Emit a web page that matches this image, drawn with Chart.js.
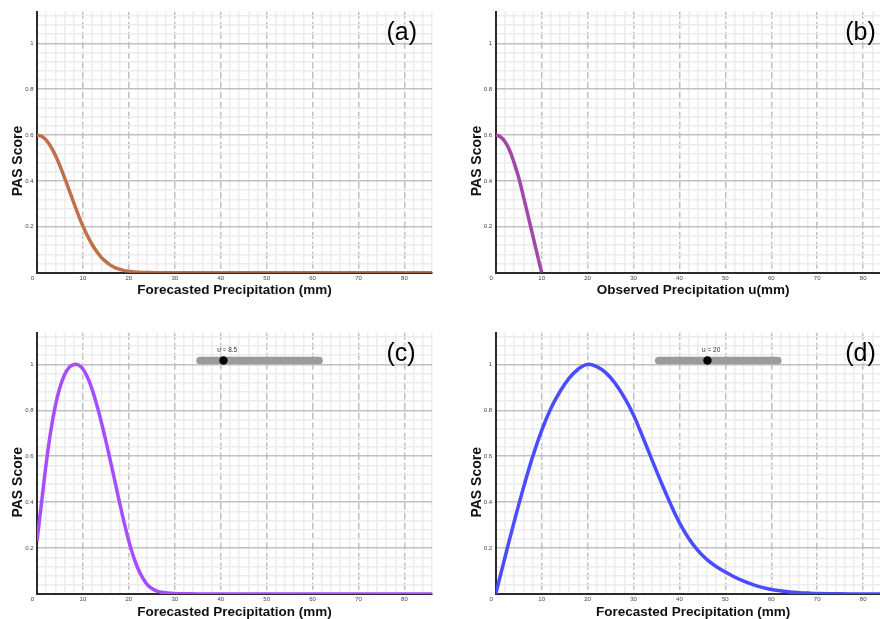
<!DOCTYPE html>
<html>
<head>
<meta charset="utf-8">
<script src="https://cdn.jsdelivr.net/npm/chart.js@4.4.1/dist/chart.umd.min.js"></script>
<style>
html,body{margin:0;padding:0;background:#fff;overflow:hidden;}
#wrap{position:relative;width:880px;height:619px;overflow:hidden;background:#fff;}
#wrap canvas{position:absolute;left:0;top:0;}
</style>
</head>
<body>
<div id="wrap">
<canvas id="ca" width="900" height="619"></canvas>
<canvas id="cb" width="900" height="619"></canvas>
<canvas id="cc" width="900" height="619"></canvas>
<canvas id="cd" width="900" height="619"></canvas>
</div>
<script>
// ---- data ----
const xTickLabels = [0, 10, 20, 30, 40, 50, 60, 70, 80];
const yTickLabels = [0.2, 0.4, 0.6, 0.8, 1];

// (a) PAS score vs forecasted precipitation
const aX = [0,1,2,3,4,5,6,7,8,9,10,11,12,13,14,15,16,17,18,19,20,22,24,26,30,40,50,60,70,80,86];
const aY = [0.6,0.595,0.578,0.55,0.512,0.466,0.414,0.36,0.305,0.252,0.203,0.16,0.123,0.092,0.067,0.048,0.033,0.022,0.015,0.009,0.006,0.002,0.001,0,0,0,0,0,0,0,0];

// (b) PAS score vs observed precipitation u
const bX = [0,1,2,3,4,5,6,7,8,9,10];
const bY = [0.6,0.593,0.572,0.535,0.48,0.415,0.335,0.252,0.168,0.084,0];

// (c) u = 8.5
const cX = [0,1,2,3,4,5,6,7,8,8.5,9,10,11,12,13,14,15,16,17,18,19,20,21,22,23,24,25,26,27,28,30,32,35,40,50,60,70,80,86];
const cY = [0.231,0.40,0.568,0.71,0.82,0.9,0.955,0.987,0.999,1.0,0.998,0.98,0.944,0.891,0.825,0.749,0.666,0.578,0.487,0.396,0.309,0.23,0.163,0.11,0.07,0.041,0.024,0.014,0.008,0.005,0.002,0.001,0,0,0,0,0,0,0];

// (d) u = 20
const dX = [0,2,4,6,8,10,12,14,16,18,20,22,24,26,28,30,32,34,36,38,40,42,44,46,48,50,52,54,56,58,60,62,64,66,68,70,75,80,86];
const dY = [0,0.158,0.313,0.46,0.595,0.712,0.808,0.882,0.94,0.98,1.0,0.99,0.963,0.918,0.856,0.78,0.685,0.585,0.488,0.395,0.311,0.243,0.19,0.15,0.12,0.096,0.074,0.056,0.041,0.029,0.02,0.014,0.009,0.006,0.004,0.0025,0.0008,0.0002,0];

// slider widgets
const sliderX = [35.5, 61.4];
const sliderY = [1.017, 1.017];
const knobC = 40.6, labelC = 'u = 8.5';
const knobD = 46.1, labelD = 'u = 20';

// ---- drawing ----
const FONT = '"Liberation Sans", Arial, Helvetica, sans-serif';
const xMajor = v => Math.abs(v / 10 - Math.round(v / 10)) < 1e-6;
const yMajor = v => Math.abs(v / 0.2 - Math.round(v / 0.2)) < 1e-6;

const panelText = {
  id: 'panelText',
  afterDraw(chart, args, o) {
    const ctx = chart.ctx, ca = chart.chartArea;
    ctx.save();
    ctx.fillStyle = '#111';
    ctx.font = 'bold 14px ' + FONT;
    ctx.textAlign = 'center';
    ctx.textBaseline = 'middle';
    ctx.translate(ca.left - 18.5, ca.bottom - 111.7);
    ctx.rotate(-Math.PI / 2);
    ctx.fillText(o.yTitle, 0, 0);
    ctx.restore();

    ctx.save();
    ctx.fillStyle = '#000';
    ctx.font = '25px ' + FONT;
    ctx.textAlign = 'left';
    ctx.textBaseline = 'middle';
    ctx.fillText(o.label, ca.left + 349.5, ca.top + 21);
    ctx.restore();

    if (o.knob !== null && o.knob !== undefined) {
      const px = chart.scales.x.getPixelForValue(o.knob);
      const py = chart.scales.y.getPixelForValue(sliderY[0]);
      ctx.save();
      ctx.fillStyle = '#333';
      ctx.font = '6.5px ' + FONT;
      ctx.textAlign = 'center';
      ctx.textBaseline = 'middle';
      ctx.fillText(o.uText, px + 3.7, py - 10);
      ctx.restore();
    }
  }
};

function pts(xs, ys) { return xs.map((x, i) => ({ x: x, y: ys[i] })); }

function curve(xs, ys, color) {
  return {
    data: pts(xs, ys), borderColor: color, backgroundColor: color,
    borderWidth: 3.5, pointRadius: 0, pointHoverRadius: 0, showLine: true,
    tension: 0.4, borderJoinStyle: 'round', fill: false, order: 2
  };
}

function sliderSets(knob) {
  return [
    { data: [{ x: knob, y: sliderY[0] }], pointRadius: 4.2, pointHoverRadius: 4.2,
      backgroundColor: '#000', borderColor: '#000', borderWidth: 0, showLine: false, order: 0 },
    { data: pts(sliderX, sliderY), borderColor: '#9b9b9b', borderWidth: 7.7, borderCapStyle: 'round',
      pointRadius: 0, pointHoverRadius: 0, showLine: true, order: 1 }
  ];
}

function makePanel(id, p) {
  const datasets = [curve(p.xs, p.ys, p.color)];
  if (p.knob !== null) datasets.unshift(...sliderSets(p.knob));
  return new Chart(document.getElementById(id), {
    type: 'scatter',
    data: { datasets: datasets },
    plugins: [panelText],
    options: {
      responsive: false, animation: false, events: [],
      devicePixelRatio: 1,
      layout: { autoPadding: false, padding: p.padding },
      plugins: {
        legend: { display: false }, tooltip: { enabled: false },
        panelText: { yTitle: 'PAS Score', label: p.label, knob: p.knob, uText: p.uText }
      },
      scales: {
        x: {
          type: 'linear', min: 0, max: 86,
          afterFit: s => { s.height = p.xH; },
          ticks: {
            stepSize: 2, autoSkip: false, maxRotation: 0, minRotation: 0, padding: 2,
            includeBounds: false, color: '#444', font: { size: 6, family: FONT },
            callback: v => (xMajor(v) && xTickLabels.indexOf(Math.round(v)) >= 0)
              ? (v === 0 ? '0\u2003\u2002' : String(Math.round(v))) : ''
          },
          grid: {
            drawTicks: false,
            color: c => (c.tick && xMajor(c.tick.value)) ? '#c0c0c0' : '#ececec',
            lineWidth: 1.5
          },
          border: {
            display: true, color: '#2b2b2b', width: 2,
            dash: c => (c.tick && xMajor(c.tick.value)) ? [7, 3] : []
          },
          title: {
            display: true, text: p.xTitle, color: '#111',
            font: { size: 13.5, weight: 'bold', family: FONT, lineHeight: 1 },
            padding: { top: 0, bottom: p.titlePad }
          }
        },
        y: {
          type: 'linear', min: 0, max: 1.138,
          afterFit: s => { s.width = 37; },
          ticks: {
            stepSize: 0.04, autoSkip: false, padding: 3.5, includeBounds: false,
            color: '#444', font: { size: 6, family: FONT },
            callback: v => {
              const r = Math.round(v * 10) / 10;
              return (v > 0 && yMajor(v) && yTickLabels.indexOf(r) >= 0) ? String(r) : '';
            }
          },
          grid: {
            drawTicks: false,
            color: c => (c.tick && yMajor(c.tick.value)) ? '#c0c0c0' : '#ececec',
            lineWidth: 1.5
          },
          border: { display: true, color: '#2b2b2b', width: 2 },
          title: { display: false }
        }
      }
    }
  });
}

makePanel('ca', {
  xs: aX, ys: aY, color: '#c0704a', label: '(a)', knob: null, uText: '',
  xTitle: 'Forecasted Precipitation (mm)',
  padding: { left: 0, top: 11.7, right: 468, bottom: 309 }, xH: 37.3, titlePad: 12.5
});
makePanel('cb', {
  xs: bX, ys: bY, color: '#a347a8', label: '(b)', knob: null, uText: '',
  xTitle: 'Observed Precipitation u(mm)',
  padding: { left: 458.7, top: 11.7, right: 9.3, bottom: 309 }, xH: 37.3, titlePad: 12.5
});
makePanel('cc', {
  xs: cX, ys: cY, color: '#a64dff', label: '(c)', knob: knobC, uText: labelC,
  xTitle: 'Forecasted Precipitation (mm)',
  padding: { left: 0, top: 332.7, right: 468, bottom: 0 }, xH: 25, titlePad: 0
});
makePanel('cd', {
  xs: dX, ys: dY, color: '#4b4bff', label: '(d)', knob: knobD, uText: labelD,
  xTitle: 'Forecasted Precipitation (mm)',
  padding: { left: 458.7, top: 332.7, right: 9.3, bottom: 0 }, xH: 25, titlePad: 0
});
</script>
</body>
</html>
